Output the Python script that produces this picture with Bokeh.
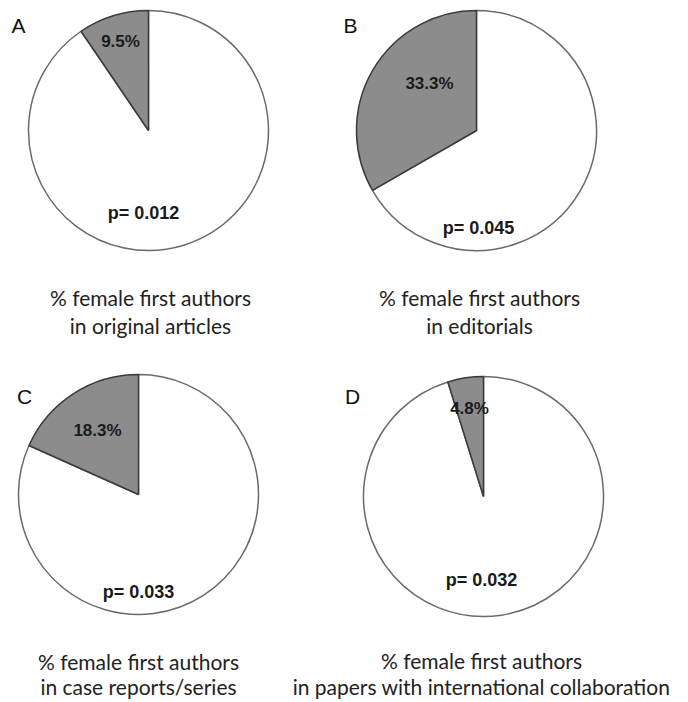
from bokeh.plotting import figure
from bokeh.models import Range1d, ColumnDataSource
from bokeh.core.properties import value
from bokeh.embed import file_html
from bokeh.resources import INLINE
import math

# --- data ---
panels = ["A", "B", "C", "D"]
female_pct = [9.5, 33.3, 18.3, 4.8]
p_values = ["0.012", "0.045", "0.033", "0.032"]
caption_line1 = ["% female first authors"] * 4
caption_line2 = ["in original articles", "in editorials",
                 "in case reports/series", "in papers with international collaboration"]

# --- layout (page pixels, y measured downward from the top) ---
W, H = 688, 702
centers = [(148, 130), (476, 130), (138, 494), (483, 496)]
radius = 120
panel_pos = [(18, 25), (350, 25), (24, 396), (352, 396)]
pct_pos = [(120, 41), (429, 83), (97, 430), (469, 408)]
p_pos = [(143, 212), (478, 227), (138, 591), (481, 579)]
cap_pos = [(150, 297, 325), (479, 297, 325), (138, 661, 686), (481, 660, 686)]

def fy(y):
    return H - y

p = figure(width=W, height=H, output_backend="svg", toolbar_location=None,
           x_range=Range1d(0, W), y_range=Range1d(0, H), min_border=0,
           outline_line_color=None)
p.axis.visible = False
p.grid.visible = False
p.background_fill_color = "white"
p.border_fill_color = "white"

for i in range(4):
    cx, cy = centers[i]
    start = math.pi / 2
    end = start + 2 * math.pi * female_pct[i] / 100.0
    # remaining (white) share
    p.wedge(x=cx, y=fy(cy), radius=radius, start_angle=end, end_angle=start + 2 * math.pi,
            fill_color="white", line_color="#6a6a6a", line_width=1.5)
    # female share (grey)
    p.wedge(x=cx, y=fy(cy), radius=radius, start_angle=start, end_angle=end,
            fill_color="#8c8c8c", line_color="#3a3a3a", line_width=1.5)

src_panel = ColumnDataSource(dict(x=[q[0] for q in panel_pos], y=[fy(q[1]) for q in panel_pos], t=panels))
p.text(x="x", y="y", text="t", source=src_panel, text_font=value("Liberation Sans"),
       text_font_size="21px", text_align="center", text_baseline="middle", text_color="#111111")

src_pct = ColumnDataSource(dict(x=[q[0] for q in pct_pos], y=[fy(q[1]) for q in pct_pos],
                                t=[f"{v}%" for v in female_pct]))
p.text(x="x", y="y", text="t", source=src_pct, text_font=value("Liberation Sans"),
       text_font_size="17px", text_font_style="bold", text_align="center",
       text_baseline="middle", text_color="#1a1a1a")

src_p = ColumnDataSource(dict(x=[q[0] for q in p_pos], y=[fy(q[1]) for q in p_pos],
                              t=[f"p= {v}" for v in p_values]))
p.text(x="x", y="y", text="t", source=src_p, text_font=value("Liberation Sans"),
       text_font_size="18px", text_font_style="bold", text_align="center",
       text_baseline="middle", text_color="#1a1a1a")

src_c1 = ColumnDataSource(dict(x=[q[0] for q in cap_pos], y=[fy(q[1]) for q in cap_pos], t=caption_line1))
src_c2 = ColumnDataSource(dict(x=[q[0] for q in cap_pos], y=[fy(q[2]) for q in cap_pos], t=caption_line2))
for s in (src_c1, src_c2):
    p.text(x="x", y="y", text="t", source=s, text_font=value("Lato"),
           text_font_size="21px", text_align="center", text_baseline="middle",
           text_color="#222222")

open("out.html", "w").write(file_html(p, INLINE))
